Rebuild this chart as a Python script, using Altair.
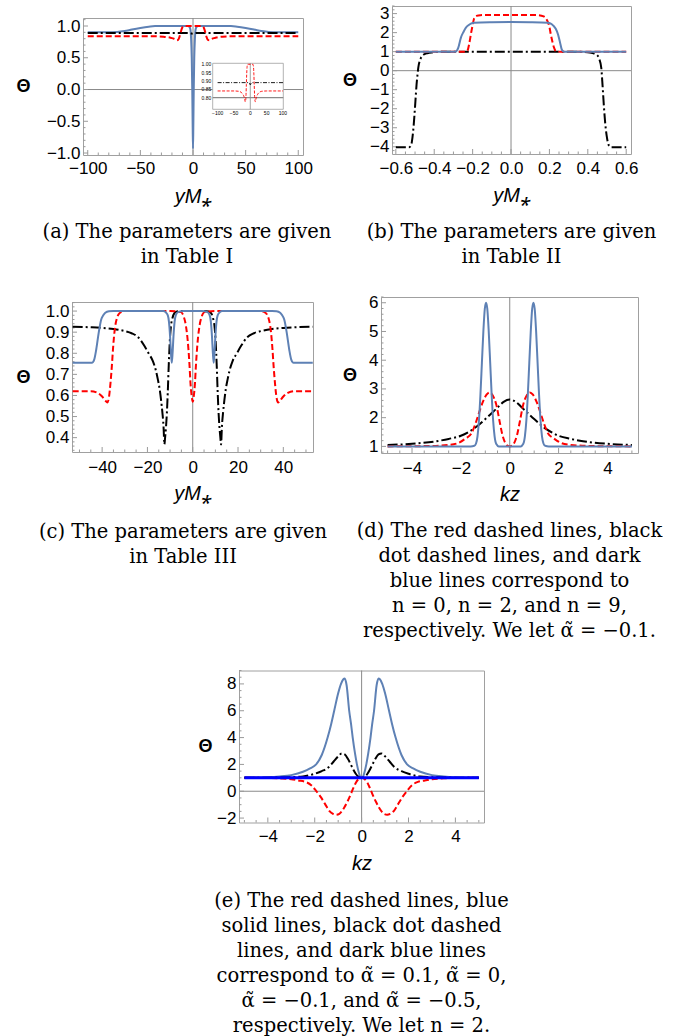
import altair as alt
import numpy as np
import pandas as pd

# ---------------- panel (a) ----------------
A_BLUE_X = [-100, -80, -72, -65, -58, -50, -42, -36, -30, -20, -10, -5, -3.5, -2.5, -1.8, -1.2, -0.7, -0.3, 0,
            0.3, 0.7, 1.2, 1.8, 2.5, 3.5, 5, 10, 20, 30, 36, 42, 50, 58, 65, 72, 80, 100]
A_BLUE_Y = [0.9, 0.9, 0.905, 0.92, 0.945, 0.97, 0.99, 1.0, 1.0, 1.0, 1.0, 1.0, 0.99, 0.95, 0.8, 0.5, 0.0, -0.6, -0.93,
            -0.6, 0.0, 0.5, 0.8, 0.95, 0.99, 1.0, 1.0, 1.0, 1.0, 1.0, 0.99, 0.97, 0.945, 0.92, 0.905, 0.9, 0.9]
A_BLACK_X = [-100, -6, -3, -1.5, 0, 1.5, 3, 6, 100]
A_BLACK_Y = [0.89, 0.89, 0.888, 0.882, 0.876, 0.882, 0.888, 0.89, 0.89]
A_RED_X = [-100, -50, -35, -28, -22, -19, -17, -15.5, -14, -13, -12, -11, -10, -9, -8, -5, 0,
           5, 8, 9, 10, 11, 12, 13, 14, 15.5, 17, 19, 22, 28, 35, 50, 100]
A_RED_Y = [0.84, 0.84, 0.838, 0.832, 0.818, 0.805, 0.79, 0.775, 0.785, 0.82, 0.88, 0.94, 0.98, 0.995, 1.0, 1.0, 1.0,
           1.0, 1.0, 0.995, 0.98, 0.94, 0.88, 0.82, 0.785, 0.775, 0.79, 0.805, 0.818, 0.832, 0.838, 0.84, 0.84]
A_XTICKS = [-100, -50, 0, 50, 100]
A_YTICKS = [-1.0, -0.5, 0.0, 0.5, 1.0]
A_XDOM = [-104.5, 104.5]
A_YDOM = [-1.031, 1.126]
A_INSET_XTICKS = [-100, -50, 0, 50, 100]
A_INSET_XLABELS = ["−100", "−50", "0", "50", "100"]
A_INSET_YTICKS = [0.80, 0.85, 0.90, 0.95, 1.00]
A_INSET_YLABELS = ["0.80", "0.85", "0.90", "0.95", "1.00"]
A_INSET_XDOM = [-115, 101]
A_INSET_YDOM = [0.73, 1.006]
A_INSET_AXIS_Y = 0.80

# ---------------- panel (b) ----------------
B_BLUE_X = [-0.6, -0.29, -0.275, -0.261, -0.247, -0.235, -0.22, -0.209, -0.19, -0.1, 0,
            0.1, 0.19, 0.207, 0.22, 0.233, 0.245, 0.255, 0.265, 0.275, 0.6]
B_BLUE_Y = [1.0, 1.0, 1.2, 1.74, 2.05, 2.26, 2.4, 2.47, 2.52, 2.55, 2.56,
            2.55, 2.52, 2.47, 2.37, 2.2, 1.9, 1.5, 1.1, 1.0, 1.0]
B_RED_X = [-0.6, -0.235, -0.227, -0.218, -0.209, -0.2, -0.192, -0.18, -0.16, -0.1, 0,
           0.1, 0.14, 0.17, 0.19, 0.2, 0.207, 0.215, 0.224, 0.233, 0.245, 0.6]
B_RED_Y = [1.0, 1.0, 1.05, 1.4, 1.92, 2.4, 2.75, 2.88, 2.92, 2.93, 2.93,
           2.93, 2.92, 2.85, 2.6, 2.3, 1.92, 1.55, 1.21, 1.03, 1.0, 1.0]
B_BLACK_X = [-0.6, -0.53, -0.52, -0.516, -0.51, -0.504, -0.498, -0.492, -0.487, -0.483, -0.476, -0.469, -0.46,
             -0.45, -0.435, -0.41, -0.38, -0.3, 0, 0.3, 0.38, 0.41, 0.424, 0.437, 0.45, 0.46, 0.47, 0.477,
             0.484, 0.491, 0.498, 0.505, 0.512, 0.52, 0.6]
B_BLACK_Y = [-4.02, -4.02, -3.9, -3.7, -3.2, -2.47, -1.6, -0.72, -0.2, 0.16, 0.5, 0.68, 0.8,
             0.87, 0.92, 0.96, 0.985, 0.998, 1.0, 0.998, 0.985, 0.96, 0.93, 0.88, 0.8, 0.6, 0.16, -0.8,
             -1.9, -2.8, -3.4, -3.8, -3.97, -4.02, -4.02]
B_XTICKS = [-0.6, -0.4, -0.2, 0.0, 0.2, 0.4, 0.6]
B_YTICKS = [-4, -3, -2, -1, 0, 1, 2, 3]

# ---------------- panel (c) ----------------
C_BLUE_X = [-53, -44.5, -43.5, -42.6, -41.5, -40.4, -39.5, -38.6, -37, -35, -20, -13, -12, -11, -10.5, -10, -9.6,
            -9.25, -8.9, -8.5, -8, -7.5, -6.5, -4, 0, 4, 6.5, 7.5, 8, 8.5, 8.9, 9.25, 9.6, 10, 10.5, 11, 12, 13,
            20, 35, 37, 38.6, 39.5, 40.4, 41.5, 42.6, 43.5, 44.5, 53]
C_BLUE_Y = [0.755, 0.755, 0.77, 0.818, 0.898, 0.96, 0.98, 0.992, 0.999, 1.0, 1.0, 1.0, 0.995, 0.98, 0.95, 0.88, 0.8,
            0.755, 0.8, 0.88, 0.95, 0.98, 0.995, 1.0, 1.0, 1.0, 0.995, 0.98, 0.95, 0.88, 0.8, 0.755, 0.8, 0.88,
            0.95, 0.98, 0.995, 1.0, 1.0, 1.0, 0.999, 0.992, 0.98, 0.96, 0.898, 0.818, 0.77, 0.755, 0.755]
C_RED_X = [-53, -45, -42, -40, -38.5, -37.7, -37, -36.3, -35.7, -35.2, -34.7, -34.2, -33.5, -32.8, -31.5, -30,
           -10, -5.2, -4, -3, -2.3, -1.9, -1.4, -1, -0.5, 0, 0.5, 1, 1.4, 1.9, 2.3, 3, 4, 5.2, 10, 30, 31.5,
           32.8, 33.5, 34.2, 34.7, 35.2, 35.7, 36.3, 37, 37.7, 38.5, 40, 42, 45, 53]
C_RED_Y = [0.62, 0.62, 0.612, 0.595, 0.575, 0.567, 0.59, 0.66, 0.74, 0.82, 0.885, 0.93, 0.965, 0.984, 0.996, 1.0,
           1.0, 0.995, 0.975, 0.93, 0.87, 0.82, 0.74, 0.66, 0.6, 0.57, 0.6, 0.66, 0.74, 0.82, 0.87, 0.93, 0.975,
           0.995, 1.0, 1.0, 0.996, 0.984, 0.965, 0.93, 0.885, 0.82, 0.74, 0.66, 0.59, 0.567, 0.575, 0.595, 0.612,
           0.62, 0.62]
C_BLACK_X = [-53, -45, -40, -35, -30, -27, -24, -21.3, -19.5, -17.6, -16.3, -15.4, -14.6, -14, -13.4, -12.9, -12.5,
             -12.2, -11.8, -11.4, -11, -10.6, -10.1, -9.6, -9, -8.1, -7, -5, 0, 5, 7, 8.1, 9, 9.6, 10.1, 10.6, 11,
             11.4, 11.8, 12.2, 12.5, 12.9, 13.4, 14, 14.6, 15.4, 16.3, 17.6, 19.5, 21.3, 24, 27, 30, 35, 40, 45, 53]
C_BLACK_Y = [0.926, 0.923, 0.92, 0.915, 0.905, 0.895, 0.875, 0.834, 0.8, 0.763, 0.72, 0.676, 0.63, 0.58, 0.52,
             0.455, 0.368, 0.4, 0.45, 0.52, 0.62, 0.74, 0.86, 0.93, 0.965, 0.99, 0.998, 1.0, 1.0, 1.0, 0.998,
             0.99, 0.965, 0.93, 0.86, 0.74, 0.62, 0.52, 0.45, 0.4, 0.368, 0.455, 0.52, 0.58, 0.63, 0.676, 0.72,
             0.763, 0.8, 0.834, 0.875, 0.895, 0.905, 0.915, 0.92, 0.923, 0.926]
C_XTICKS = [-40, -20, 0, 20, 40]
C_YTICKS = [0.4, 0.5, 0.6, 0.7, 0.8, 0.9, 1.0]

# ---------------- panel (d) ----------------
D_BLUE_X = [-5, -1.6, -1.45, -1.38, -1.32, -1.26, -1.2, -1.14, -1.08, -1.02, -0.97, -0.92, -0.86, -0.8, -0.74,
            -0.68, -0.62, -0.55, -0.45, 0, 0.45, 0.55, 0.62, 0.68, 0.74, 0.8, 0.86, 0.92, 0.97, 1.02, 1.08, 1.14,
            1.2, 1.26, 1.32, 1.38, 1.45, 1.6, 5]
D_BLUE_Y = [1.0, 1.0, 1.02, 1.1, 1.35, 1.9, 2.8, 3.9, 5.0, 5.8, 6.0, 5.8, 5.0, 3.9, 2.8,
            1.9, 1.35, 1.08, 1.0, 1.0, 1.0, 1.08, 1.35, 1.9, 2.8, 3.9, 5.0, 5.8, 6.0, 5.8, 5.0, 3.9,
            2.8, 1.9, 1.35, 1.1, 1.02, 1.0, 1.0]
D_RED_X = [-5, -3.5, -2.5, -2.1, -1.8, -1.57, -1.4, -1.23, -1.1, -0.95, -0.82, -0.7, -0.55, -0.41, -0.3, -0.2,
           -0.1, 0, 0.1, 0.2, 0.3, 0.41, 0.55, 0.7, 0.82, 0.95, 1.1, 1.23, 1.4, 1.57, 1.8, 2.1, 2.5, 3.5, 5]
D_RED_Y = [1.0, 1.01, 1.05, 1.12, 1.28, 1.45, 1.8, 2.24, 2.55, 2.8, 2.88, 2.78, 2.45, 1.85, 1.4, 1.15,
           1.03, 1.0, 1.03, 1.15, 1.4, 1.85, 2.45, 2.78, 2.88, 2.8, 2.55, 2.24, 1.8, 1.45, 1.28, 1.12, 1.05, 1.01, 1.0]
D_BLACK_X = [-5, -4, -3, -2.5, -2, -1.5, -1.0, -0.5, -0.25, 0, 0.25, 0.5, 1.0, 1.5, 2, 2.5, 3, 4, 5]
D_BLACK_Y = [1.05, 1.09, 1.18, 1.26, 1.37, 1.6, 1.95, 2.35, 2.55, 2.63, 2.55, 2.35, 1.95, 1.6, 1.37, 1.26, 1.18,
             1.09, 1.05]
D_XTICKS = [-4, -2, 0, 2, 4]
D_YTICKS = [1, 2, 3, 4, 5, 6]

# ---------------- panel (e) ----------------
E_BLUE_X = [-5, -4, -3.5, -3, -2.5, -2.2, -1.94, -1.7, -1.45, -1.3, -1.17, -1.0, -0.88, -0.78, -0.72, -0.64, -0.53,
            -0.45, -0.38, -0.28, -0.2, -0.12, -0.05, 0, 0.05, 0.12, 0.2, 0.28, 0.38, 0.45, 0.53, 0.64, 0.72, 0.78,
            0.88, 1.0, 1.17, 1.3, 1.45, 1.7, 1.94, 2.2, 2.5, 3, 3.5, 4, 5]
E_BLUE_Y = [1.02, 1.05, 1.1, 1.2, 1.45, 1.7, 2.0, 2.7, 4.0, 5.0, 6.0, 7.3, 8.0, 8.35, 8.4, 7.9, 6.0,
            5.0, 4.0, 2.8, 2.0, 1.4, 1.05, 1.0, 1.05, 1.4, 2.0, 2.8, 4.0, 5.0, 6.0, 7.9, 8.4, 8.35,
            8.0, 7.3, 6.0, 5.0, 4.0, 2.7, 2.0, 1.7, 1.45, 1.2, 1.1, 1.05, 1.02]
E_BLACK_X = [-5, -4, -3, -2.5, -2, -1.7, -1.4, -1.2, -1.0, -0.85, -0.72, -0.58, -0.45, -0.35, -0.25, -0.15, -0.05, 0,
             0.05, 0.15, 0.25, 0.35, 0.45, 0.58, 0.72, 0.85, 1.0, 1.2, 1.4, 1.7, 2, 2.5, 3, 4, 5]
E_BLACK_Y = [1.0, 1.01, 1.05, 1.1, 1.3, 1.5, 1.8, 2.2, 2.6, 2.82, 2.75, 2.4, 1.95, 1.6, 1.3, 1.1, 1.0, 1.0,
             1.0, 1.1, 1.3, 1.6, 1.95, 2.4, 2.75, 2.82, 2.6, 2.2, 1.8, 1.5, 1.3, 1.1, 1.05, 1.01, 1.0]
E_RED_X = [-5, -4, -3.5, -3, -2.7, -2.4, -2.15, -1.95, -1.73, -1.55, -1.38, -1.22, -1.09, -0.95, -0.85, -0.74, -0.6,
           -0.46, -0.35, -0.24, -0.12, 0, 0.12, 0.24, 0.35, 0.46, 0.6, 0.74, 0.85, 0.95, 1.09, 1.22, 1.38, 1.55,
           1.73, 1.95, 2.15, 2.4, 2.7, 3, 3.5, 4, 5]
E_RED_Y = [1.0, 0.99, 0.96, 0.9, 0.8, 0.7, 0.45, 0.05, -0.46, -0.98, -1.46, -1.68, -1.75, -1.68, -1.5, -1.21, -0.75,
           -0.21, 0.25, 0.66, 0.92, 1.0, 0.92, 0.66, 0.25, -0.21, -0.75, -1.21, -1.5, -1.68, -1.75, -1.68, -1.46,
           -0.98, -0.46, 0.05, 0.45, 0.7, 0.8, 0.9, 0.96, 0.99, 1.0]
E_PURE_X = [-5, 5]
E_PURE_Y = [1.0, 1.0]
E_XTICKS = [-4, -2, 0, 2, 4]
E_YTICKS = [-2, 0, 2, 4, 6, 8]

CAP_A = ["(a) The parameters are given", "in Table I"]
CAP_B = ["(b) The parameters are given", "in Table II"]
CAP_C = ["(c) The parameters are given", "in Table III"]
CAP_D = ["(d) The red dashed lines, black", "dot dashed lines, and dark", "blue lines correspond to",
         "n = 0, n = 2, and n = 9,", "respectively. We let α̃ = −0.1."]
CAP_E = ["(e) The red dashed lines, blue", "solid lines, black dot dashed", "lines, and dark blue lines",
         "correspond to α̃ = 0.1, α̃ = 0,", "α̃ = −0.1, and α̃ = −0.5,", "respectively. We let n = 2."]

# ---------------- style ----------------
FRAME = "#a0a0a0"
ZERO = "#8a8a8a"
TICKC = "#9a9a9a"
COL_BLUE = "#5e81b5"
COL_RED = "#ff0000"
COL_BLACK = "#000000"
COL_PURE = "#0000ff"
SANS = "Liberation Sans"
SERIF = "DejaVu Serif"
DASH = [6, 3]
DOTDASH = [10, 3, 2, 3]
LW = 2.0
TICKFS = 17
CAPFS = 19.5


def sc(dom):
    return alt.Scale(domain=dom, nice=False, zero=False)


def encs(xdom, ydom, xvals, yvals, xfmt, yfmt, xtitle, theta_x, w, h, lpad):
    xaxis = alt.Axis(values=xvals, format=xfmt, title=xtitle, ticks=False, domain=False, grid=False,
                     labelFont=SANS, labelFontSize=TICKFS, labelColor="black", labelPadding=lpad,
                     labelFlush=False, labelOverlap=False,
                     titleFont=SANS, titleFontSize=20, titleFontStyle="italic", titleFontWeight="normal",
                     titleColor="black", titleX=w / 2, titleY=47, titleBaseline="alphabetic",
                     titleAlign="center")
    yaxis = alt.Axis(values=yvals, format=yfmt, title="Θ", ticks=False, domain=False, grid=False,
                     labelFont=SANS, labelFontSize=TICKFS, labelColor="black", labelPadding=3,
                     labelFlush=False, labelOverlap=False,
                     titleFont=SANS, titleFontSize=18, titleFontWeight="bold", titleColor="black",
                     titleAngle=0, titleX=theta_x, titleY=h / 2, titleAlign="center",
                     titleBaseline="middle")
    X = alt.X("x:Q", scale=sc(xdom), axis=xaxis)
    Y = alt.Y("y:Q", scale=sc(ydom), axis=yaxis)
    return X, Y


def line(xs, ys, X, Y, color, dash=None, width=LW):
    kw = dict(color=color, strokeWidth=width, clip=True, interpolate="monotone")
    if dash:
        kw["strokeDash"] = dash
    return alt.Chart(pd.DataFrame({"x": xs, "y": ys})).mark_line(**kw).encode(x=X, y=Y)


def minors(dom, step, major):
    lo = np.ceil(dom[0] / step) * step
    vals = np.round(np.arange(lo, dom[1] + 1e-9, step), 6)
    return [float(v) for v in vals if abs(v / major - round(v / major)) > 1e-6]


def tick_layers(X, Y, xmaj, ymaj, xdom, ydom, xstep, ystep, xmajstep, ymajstep, h):
    out = []
    for vals, L in ((xmaj, 5), (minors(xdom, xstep, xmajstep), 2.5)):
        out.append(alt.Chart(pd.DataFrame({"x": vals})).mark_rule(color=TICKC, strokeWidth=1)
                   .encode(x=X, y=alt.value(h), y2=alt.value(h - L)))
    for vals, L in ((ymaj, 5), (minors(ydom, ystep, ymajstep), 2.5)):
        out.append(alt.Chart(pd.DataFrame({"y": vals})).mark_rule(color=TICKC, strokeWidth=1)
                   .encode(y=Y, x=alt.value(0), x2=alt.value(L)))
    return out


def body(series, xdom, ydom, w, h, xvals, yvals, xfmt, yfmt, xstep, ystep, xmajstep, ymajstep,
         xtitle, theta_x, zx, zy, lpad=6, extra=None):
    X, Y = encs(xdom, ydom, xvals, yvals, xfmt, yfmt, xtitle, theta_x, w, h, lpad)
    layers = []
    if zx:
        layers.append(alt.Chart(pd.DataFrame({"x": [0]})).mark_rule(color=ZERO, strokeWidth=1).encode(x=X))
    if zy:
        layers.append(alt.Chart(pd.DataFrame({"y": [0]})).mark_rule(color=ZERO, strokeWidth=1).encode(y=Y))
    layers += tick_layers(X, Y, xvals, yvals, xdom, ydom, xstep, ystep, xmajstep, ymajstep, h)
    for xs, ys, color, dash, sw in series:
        layers.append(line(xs, ys, X, Y, color, dash, sw))
    if extra is not None:
        layers += extra(X, Y)
    return alt.layer(*layers)


def caption(text, offset, dx=0):
    return alt.TitleParams(text=text, orient="bottom", anchor="middle", frame="group", font=SERIF,
                           fontSize=CAPFS, fontWeight="normal", color="black", lineHeight=25,
                           offset=offset, dx=dx)


def spacer(w, h):
    return (alt.Chart(pd.DataFrame({"v": [0]})).mark_point(opacity=0, size=1)
            .encode(x=alt.value(w / 2), y=alt.value(h / 2))
            .properties(width=w, height=h, view=alt.ViewBackground(strokeOpacity=0)))


def flush_row(panel):
    # a thin spacer in the first column lets the panel sit flush by its own bounds
    return alt.concat(spacer(1, 1), panel, columns=2, align="none", spacing=0)


# ---------------- panel (a) with inset ----------------
AW, AH = 220, 137
# inset box inside the plot area of (a), in pixels from the plot's top-left corner
IX0, IX1, IY0, IY1 = 129.7, 200.3, 45.3, 91.3
_kx = (IX1 - IX0) / (A_INSET_XDOM[1] - A_INSET_XDOM[0])
_ky = (IY1 - IY0) / (A_INSET_YDOM[1] - A_INSET_YDOM[0])
_sx = (A_XDOM[1] - A_XDOM[0]) / AW
_sy = (A_YDOM[1] - A_YDOM[0]) / AH
BX = _kx * _sx
AX = A_XDOM[0] + (IX0 - A_INSET_XDOM[0] * _kx) * _sx
BY = _ky * _sy
AY = A_YDOM[1] - (IY1 + A_INSET_YDOM[0] * _ky) * _sy
XMAP = f"{AX} + {BX} * datum.xi"
YMAP = f"{AY} + {BY} * datum.yi"
XMAP2 = f"{AX} + {BX} * datum.xi2"
YMAP2 = f"{AY} + {BY} * datum.yi2"


def inset_layers(X, Y):
    out = []
    frame = pd.DataFrame({"xi": [A_INSET_XDOM[0]], "xi2": [A_INSET_XDOM[1]],
                          "yi": [A_INSET_YDOM[0]], "yi2": [A_INSET_YDOM[1]]})
    out.append(alt.Chart(frame).transform_calculate(x=XMAP, x2=XMAP2, y=YMAP, y2=YMAP2)
               .mark_rect(fill="white", stroke=FRAME, strokeWidth=0.8)
               .encode(x=X, x2="x2:Q", y=Y, y2="y2:Q"))
    vline = pd.DataFrame({"xi": [0], "yi": [A_INSET_YDOM[0]], "yi2": [A_INSET_YDOM[1]]})
    out.append(alt.Chart(vline).transform_calculate(x=XMAP, y=YMAP, y2=YMAP2)
               .mark_rule(color=ZERO, strokeWidth=0.8).encode(x=X, y=Y, y2="y2:Q"))
    hline = pd.DataFrame({"xi": [A_INSET_XDOM[0]], "xi2": [A_INSET_XDOM[1]], "yi": [A_INSET_AXIS_Y]})
    out.append(alt.Chart(hline).transform_calculate(x=XMAP, x2=XMAP2, y=YMAP)
               .mark_rule(color=ZERO, strokeWidth=1.2).encode(x=X, x2="x2:Q", y=Y))
    out.append(alt.Chart(pd.DataFrame({"xi": A_BLACK_X, "yi": A_BLACK_Y}))
               .transform_calculate(x=XMAP, y=YMAP)
               .mark_line(color=COL_BLACK, strokeWidth=0.9, strokeDash=[4, 1.5, 1, 1.5], interpolate="monotone")
               .encode(x=X, y=Y))
    out.append(alt.Chart(pd.DataFrame({"xi": A_RED_X, "yi": A_RED_Y}))
               .transform_calculate(x=XMAP, y=YMAP)
               .mark_line(color=COL_RED, strokeWidth=0.9, strokeDash=[3, 1.5], interpolate="monotone")
               .encode(x=X, y=Y))
    ylab = pd.DataFrame({"xi": [A_INSET_XDOM[0]] * len(A_INSET_YTICKS), "yi": A_INSET_YTICKS,
                         "lab": A_INSET_YLABELS})
    out.append(alt.Chart(ylab).transform_calculate(x=XMAP, y=YMAP)
               .mark_text(align="right", baseline="middle", dx=-1.5, font=SANS, fontSize=5, color="black")
               .encode(x=X, y=Y, text="lab:N"))
    xlab = pd.DataFrame({"xi": A_INSET_XTICKS, "yi": [A_INSET_YDOM[0]] * len(A_INSET_XTICKS),
                         "lab": A_INSET_XLABELS})
    out.append(alt.Chart(xlab).transform_calculate(x=XMAP, y=YMAP)
               .mark_text(align="center", baseline="top", dy=1.5, font=SANS, fontSize=5, color="black")
               .encode(x=X, y=Y, text="lab:N"))
    return out


panel_a = body([(A_BLUE_X, A_BLUE_Y, COL_BLUE, None, LW),
                (A_BLACK_X, A_BLACK_Y, COL_BLACK, DOTDASH, LW),
                (A_RED_X, A_RED_Y, COL_RED, DASH, LW)],
               A_XDOM, A_YDOM, AW, AH, A_XTICKS, A_YTICKS, "d", ".1f",
               10, 0.1, 50, 0.5, "yM⁎", -60, True, True, lpad=5, extra=inset_layers).properties(
    width=AW, height=AH, title=caption(CAP_A, 17, dx=-6))

# ---------------- panel (b) ----------------
BW, BH = 239, 148
panel_b = body([(B_BLACK_X, B_BLACK_Y, COL_BLACK, DOTDASH, LW),
                (B_RED_X, B_RED_Y, COL_RED, DASH, LW),
                (B_BLUE_X, B_BLUE_Y, COL_BLUE, None, LW)],
               [-0.62, 0.625], [-4.38, 3.4], BW, BH, B_XTICKS, B_YTICKS, ".1f", "d",
               0.05, 0.2, 0.2, 1, "yM⁎", -42.5, True, True, lpad=6).properties(
    width=BW, height=BH, title=caption(CAP_B, 17.5))

# ---------------- panel (c) ----------------
CW, CH = 241, 150
panel_c = body([(C_BLACK_X, C_BLACK_Y, COL_BLACK, DOTDASH, LW),
                (C_RED_X, C_RED_Y, COL_RED, DASH, LW),
                (C_BLUE_X, C_BLUE_Y, COL_BLUE, None, LW)],
               [-53.3, 53.1], [0.332, 1.043], CW, CH, C_XTICKS, C_YTICKS, "d", ".1f",
               5, 0.02, 20, 0.1, "yM⁎", -49, True, False, lpad=7).properties(
    width=CW, height=CH, title=caption(CAP_C, 20, dx=-9.5))

# ---------------- panel (d) ----------------
DW, DH = 257, 156
panel_d = body([(D_BLACK_X, D_BLACK_Y, COL_BLACK, DOTDASH, LW),
                (D_RED_X, D_RED_Y, COL_RED, DASH, LW),
                (D_BLUE_X, D_BLUE_Y, COL_BLUE, None, LW)],
               [-5.27, 5.25], [0.77, 6.2], DW, DH, D_XTICKS, D_YTICKS, "d", "d",
               0.5, 0.2, 2, 1, "kz", -31.5, True, False, lpad=7).properties(
    width=DW, height=DH, title=caption(CAP_D, 18))

# ---------------- panel (e) ----------------
EW, EH = 245, 152
panel_e = body([(E_BLUE_X, E_BLUE_Y, COL_BLUE, None, LW),
                (E_RED_X, E_RED_Y, COL_RED, DASH, LW),
                (E_BLACK_X, E_BLACK_Y, COL_BLACK, DOTDASH, LW),
                (E_PURE_X, E_PURE_Y, COL_PURE, None, 3)],
               [-5.23, 5.22], [-2.33, 9.0], EW, EH, E_XTICKS, E_YTICKS, "d", "d",
               0.5, 0.5, 2, 2, "kz", -34, True, True, lpad=6).properties(
    width=EW, height=EH, title=caption(CAP_E, 18))

# ---------------- layout ----------------
left_col = alt.concat(spacer(1, 9.5), flush_row(panel_a), spacer(1, 33.9), flush_row(panel_c),
                      columns=1, align="none", spacing=0)
right_col = alt.concat(flush_row(panel_b), spacer(1, 25.4), flush_row(panel_d),
                       columns=1, align="none", spacing=0)
row1 = alt.concat(left_col, right_col, columns=2, align="none", spacing=8)
row2 = alt.concat(spacer(183, 1), panel_e, columns=2, align="none", spacing=0)

chart = (alt.concat(row1, row2, columns=1, align="none", spacing=28.5)
         .properties(padding={"left": 14, "top": 4, "right": 0, "bottom": 0}, background="white")
         .configure_view(stroke=FRAME, strokeWidth=1))

chart.save("out.html", embed_options={"renderer": "svg", "actions": False})
